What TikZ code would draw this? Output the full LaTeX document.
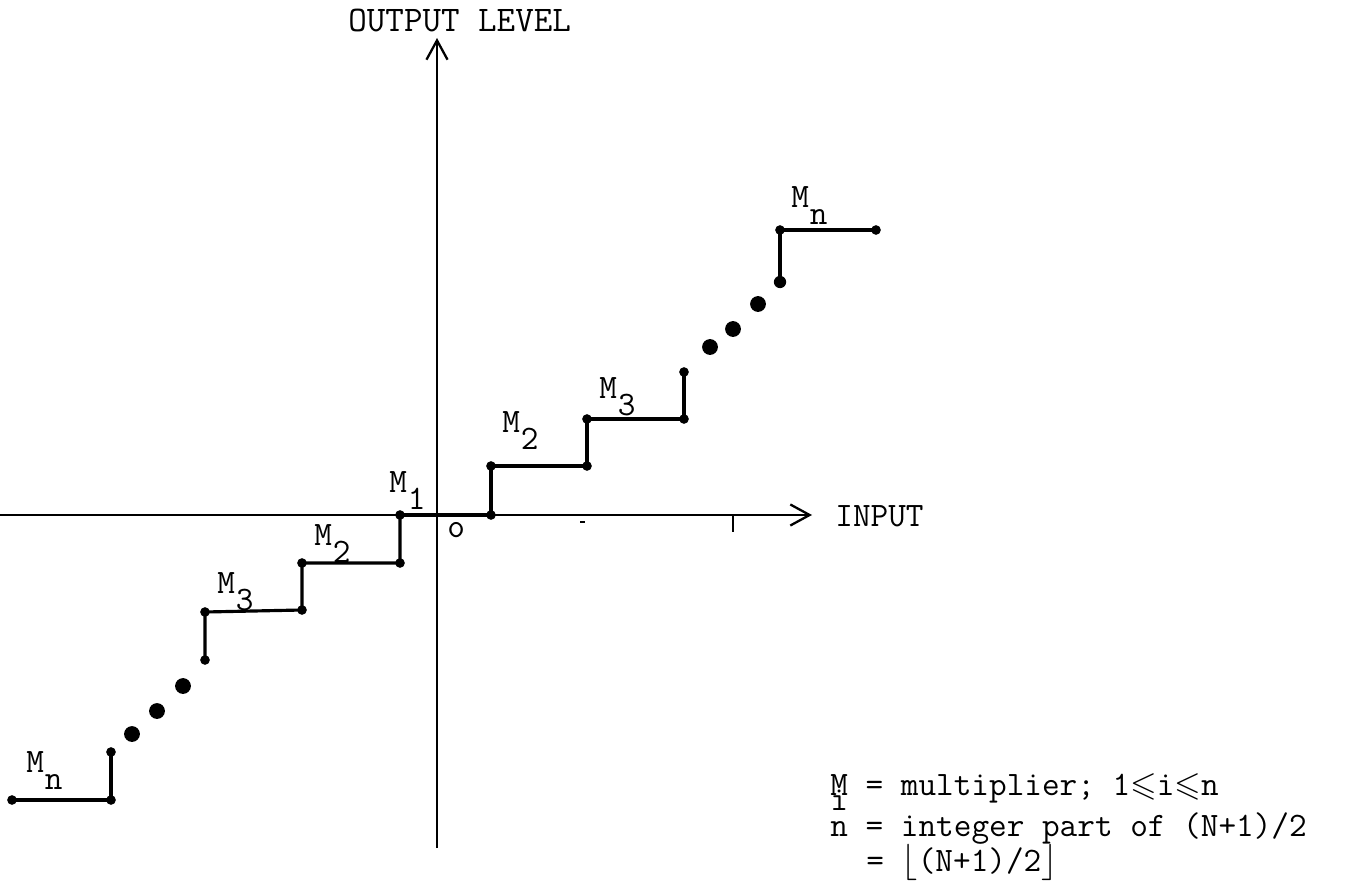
\documentclass[tikz,border=0pt]{standalone}
\usepackage{amssymb}
\usetikzlibrary{arrows.meta}
\newcommand\tw{\fontsize{19.5}{24}\selectfont\ttfamily}
\newcommand\Msub[1]{M\kern0.5pt\raisebox{-10.2pt}{#1}}
\begin{document}
\begin{tikzpicture}[x=0.02cm,y=-0.02cm,
  axisline/.style={line width=1.3pt,-{Straight Barb[length=11pt,width=12pt,line width=1.3pt]}},
  stair/.style={line width=1.8pt,line join=miter},
  corner/.style={circle,fill,inner sep=0pt,minimum size=5.5pt},
  cdot/.style={circle,fill,inner sep=0pt,minimum size=9pt},
  lab/.style={font=\tw,inner sep=0pt,anchor=base west},
  tick/.style={line width=0.8pt}]
\useasboundingbox (0,0) rectangle (1363,892);
% axes
\coordinate (vb) at (437,848);
\coordinate (vt) at (437,38);
\coordinate (hl) at (0,515);
\coordinate (hr) at (812,515);
\draw[axisline] (vb) -- (vt);
\draw[axisline] (hl) -- (hr);
\node[lab,font=\fontsize{20.5}{24}\selectfont\ttfamily] (outlbl) at (348,32) {OUTPUT LEVEL};
\node[lab] (inlbl) at (835,526) {INPUT};
\node[lab] (orig) at (447,537) {o};
% ticks on input axis
\coordinate (t1a) at (733,515); \coordinate (t1b) at (733,532);
\draw[tick] (t1a) -- (t1b);
\coordinate (t2a) at (580,522); \coordinate (t2b) at (585,522);
\draw[tick] (t2a) -- (t2b);
% right staircase
\coordinate (r0) at (400,515);
\coordinate (r1) at (491,515);
\coordinate (r2) at (491,466);
\coordinate (r3) at (587,466);
\coordinate (r4) at (587,419);
\coordinate (r5) at (684,419);
\coordinate (r6) at (684,372);
\draw[stair] (r0) -- (r1) -- (r2) -- (r3) -- (r4) -- (r5) -- (r6);
\foreach \p in {r0,r1,r2,r3,r4,r5,r6} \node[corner] at (\p) {};
% left staircase
\coordinate (l1) at (400,563);
\coordinate (l2) at (302,563);
\coordinate (l3) at (302,610);
\coordinate (l4) at (205,612);
\coordinate (l5) at (205,660);
\draw[stair] (r0) -- (l1) -- (l2) -- (l3) -- (l4) -- (l5);
\foreach \p in {l1,l2,l3,l4,l5} \node[corner] at (\p) {};
% top step
\coordinate (ta) at (780,282);
\coordinate (tb) at (780,230);
\coordinate (tc) at (876,230);
\draw[stair] (ta) -- (tb) -- (tc);
\foreach \p in {tb,tc} \node[corner] at (\p) {};
\node[corner,minimum size=7pt] (tip) at (ta) {};
% bottom step
\coordinate (ba) at (111,752);
\coordinate (bb) at (111,800);
\coordinate (bc) at (12,800);
\draw[stair] (ba) -- (bb) -- (bc);
\foreach \p in {ba,bb,bc} \node[corner] at (\p) {};
% ellipsis dots
\node[cdot] (d1) at (710,347) {};
\node[cdot] (d2) at (733,329) {};
\node[cdot] (d3) at (758,304) {};
\node[cdot] (d4) at (132,734) {};
\node[cdot] (d5) at (157,711) {};
\node[cdot] (d6) at (183,686) {};
% labels
\node[lab] (m1) at (389,492) {\Msub{1}};
\node[lab] (m2r) at (502,432) {\Msub{2}};
\node[lab] (m3r) at (599,398) {\Msub{3}};
\node[lab] (mnr) at (791,207) {\Msub{n}};
\node[lab] (m2l) at (314,545) {\Msub{2}};
\node[lab] (m3l) at (217,593) {\Msub{3}};
\node[lab] (mnl) at (26,772) {\Msub{n}};
% legend
\node[lab] (leg1) at (830,795) {M\llap{\raisebox{-8.6pt}{i}} = multiplier; 1$\leqslant$i$\leqslant$n};
\node[lab] (leg2) at (830,836) {n = integer part of (N+1)/2};
\node[lab] (leg3) at (866,871) {= $\Big\lfloor$(N+1)/2$\Big\rfloor$};
\end{tikzpicture}
\end{document}
